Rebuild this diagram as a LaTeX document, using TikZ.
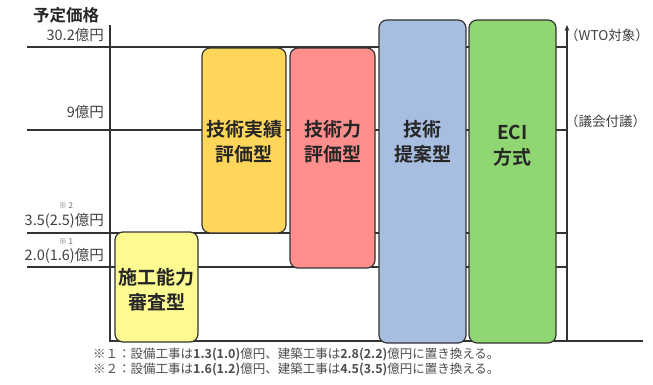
\documentclass[tikz,border=0pt]{standalone}
\usepackage{fontspec}
\setmainfont{Noto Sans CJK JP}[BoldFont={Noto Sans CJK JP Bold}]
\usetikzlibrary{arrows.meta}
\definecolor{cyel}{HTML}{FCFA90}
\definecolor{corg}{HTML}{FFD65A}
\definecolor{cpnk}{HTML}{FF8E8C}
\definecolor{cblu}{HTML}{A8BEE0}
\definecolor{cgrn}{HTML}{90D672}
\definecolor{cline}{HTML}{333333}
\begin{document}
\begin{tikzpicture}[x=1pt,y=-1pt,
  axis/.style={draw=cline,line width=1.3pt},
  grid/.style={draw=cline,line width=1.1pt},
  box/.style={draw=cline,line width=1.2pt,rounded corners=8pt,inner sep=0pt},
  boxtext/.style={font=\bfseries\fontsize{19}{25}\selectfont,align=center,text=black!85},
  vlabel/.style={font=\fontsize{14.5}{16}\selectfont,anchor=east,inner sep=0pt,text=black!75},
  note/.style={font=\fontsize{8}{9}\selectfont,inner sep=0pt,text=black!60},
  rlabel/.style={font=\fontsize{13.5}{15}\selectfont,anchor=west,inner sep=0pt,text=black!75},
  foot/.style={font=\fontsize{12.5}{14}\selectfont,anchor=west,inner sep=0pt,text=black!70}]
\useasboundingbox (0,0) rectangle (653,385);
% coordinates
\coordinate (ytop) at (110,25);
\coordinate (orig) at (110,341);
\coordinate (xend) at (643,341);
\coordinate (rbot) at (567,341);
\coordinate (rtop) at (567,25);
\coordinate (g1l) at (27,47);   \coordinate (g1r) at (567,47);
\coordinate (g2l) at (27,130);  \coordinate (g2r) at (567,130);
\coordinate (g3l) at (27,233);  \coordinate (g3r) at (567,233);
\coordinate (g4l) at (27,267);  \coordinate (g4r) at (567,267);
% grid lines
\draw[grid] (g1l) -- (g1r);
\draw[grid] (g2l) -- (g2r);
\draw[grid] (g3l) -- (g3r);
\draw[grid] (g4l) -- (g4r);
% axes
\draw[axis] (ytop) -- (orig) -- (xend);
\draw[axis,-{Stealth[length=6pt,width=5pt]}] (rbot) -- (rtop);
% boxes
\node[box,fill=cyel,minimum width=83pt,minimum height=110pt] (b1) at (156.5,287) {};
\node[box,fill=corg,minimum width=84pt,minimum height=185pt] (b2) at (244,140.5) {};
\node[box,fill=cpnk,minimum width=85pt,minimum height=220pt] (b3) at (332.5,158) {};
\node[box,fill=cblu,minimum width=87pt,minimum height=323pt] (b4) at (422.5,181.5) {};
\node[box,fill=cgrn,minimum width=87pt,minimum height=323pt] (b5) at (512.5,181.5) {};
% box texts
\node[boxtext] (t1) at (156.5,290) {施工能力\\審査型};
\node[boxtext] (t2) at (244,142) {技術実績\\評価型};
\node[boxtext] (t3) at (332.5,142) {技術力\\評価型};
\node[boxtext] (t4) at (422.5,142) {技術\\提案型};
\node[boxtext] (t5) at (512.5,146) {ECI\\方式};
% axis labels
\node[font=\bfseries\fontsize{16.5}{18}\selectfont,inner sep=0pt,text=black!85] (yl) at (66,15) {予定価格};
\node[vlabel] (l1) at (104,35) {30.2億円};
\node[vlabel] (l2) at (104,112) {9億円};
\node[note] (n2) at (66,206) {※ 2};
\node[vlabel] (l3) at (104,221) {3.5(2.5)億円};
\node[note] (n1) at (66,242) {※ 1};
\node[vlabel] (l4) at (104,256) {2.0(1.6)億円};
% right labels
\node[rlabel] (r1) at (565,35) {（WTO対象）};
\node[rlabel] (r2) at (565,121) {（議会付議）};
% footnotes
\node[foot] (f1) at (93,354) {※１：設備工事は\textbf{1.3(1.0)}億円、建築工事は\textbf{2.8(2.2)}億円に置き換える。};
\node[foot] (f2) at (93,369) {※２：設備工事は\textbf{1.6(1.2)}億円、建築工事は\textbf{4.5(3.5)}億円に置き換える。};
\end{tikzpicture}
\end{document}
